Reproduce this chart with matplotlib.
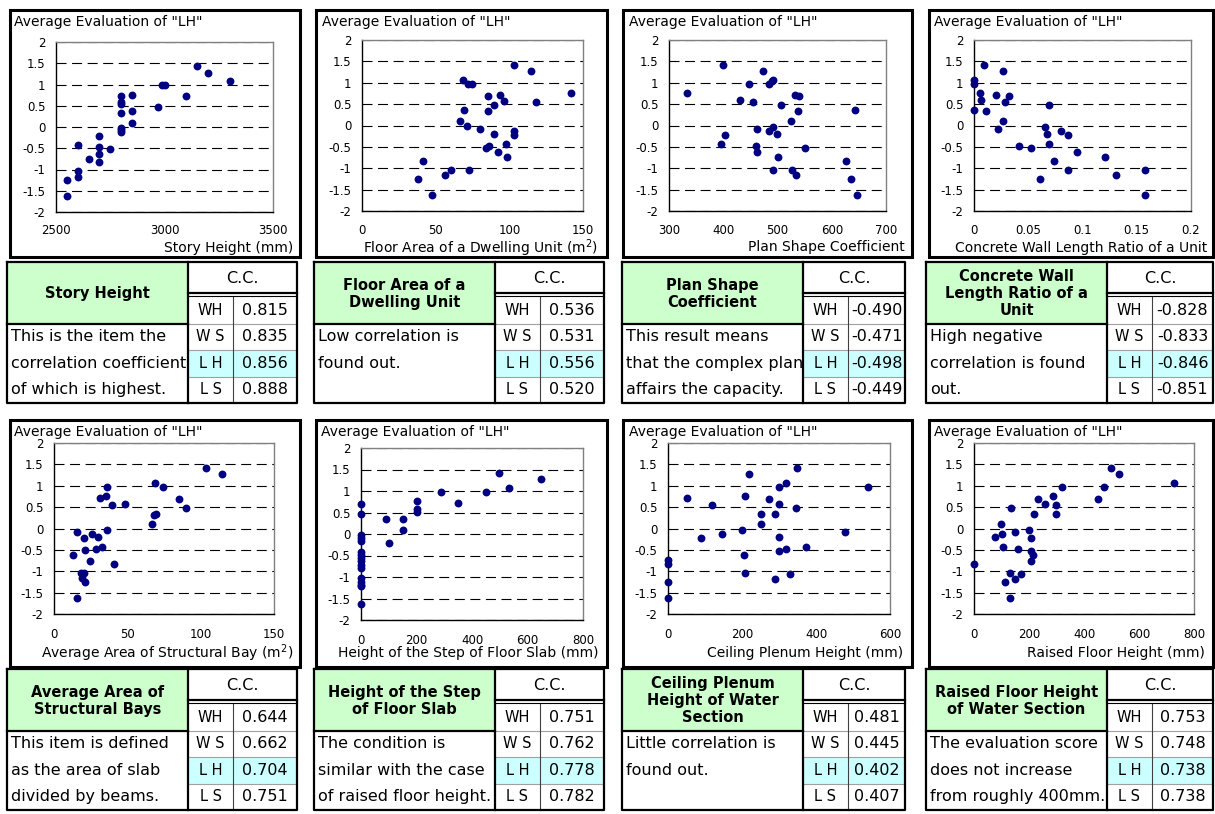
import matplotlib
matplotlib.use('Agg')
import matplotlib.pyplot as plt
from matplotlib.ticker import FuncFormatter, MultipleLocator
from matplotlib.patches import Rectangle

plt.rcParams['font.family'] = ['DejaVu Sans']
plt.rcParams['axes.unicode_minus'] = False

W, H = 1215, 814

# ---------------- data ----------------
y_title = 'Average Evaluation of "LH"'

x_labels = ['Story Height (mm)', 'Floor Area of a Dwelling Unit (m$^2$)',
            'Plan Shape Coefficient', 'Concrete Wall Length Ratio of a Unit',
            'Average Area of Structural Bay (m$^2$)', 'Height of the Step of Floor Slab (mm)',
            'Ceiling Plenum Height (mm)', 'Raised Floor Height (mm)']
x_limits = [(2500, 3500), (0, 150), (300, 700), (0, 0.2),
            (0, 150), (0, 800), (0, 600), (0, 800)]
x_steps = [500, 50, 100, 0.05, 50, 200, 200, 200]

story_x = [2550, 2550, 2600, 2600, 2600, 2650, 2700, 2700, 2700, 2700, 2750, 2800, 2800, 2800,
           2800, 2800, 2800, 2800, 2850, 2850, 2850, 2970, 2990, 3000, 3100, 3150, 3200, 3300]
story_y = [-1.25, -1.63, -0.43, -1.04, -1.17, -0.75, -0.20, -0.47, -0.63, -0.83, -0.52, 0.72, 0.60, 0.54,
           0.34, -0.02, -0.07, -0.12, 0.76, 0.37, 0.10, 0.48, 0.99, 0.98, 0.72, 1.44, 1.28, 1.08]

area_x = [37.9, 41.1, 47.6, 56.4, 60.2, 66.8, 68.8, 69.0, 71.3, 72.2, 74.4, 72.9, 80.1, 84.1, 85.3,
          85.3, 86.0, 89.8, 89.8, 92.0, 93.8, 96.1, 97.7, 98.1, 103.5, 103.5, 103.5, 114.4, 118.0, 141.7]
area_y = [-1.25, -0.83, -1.63, -1.16, -1.05, 0.10, 1.06, 0.36, -0.02, 0.98, 0.98, -1.05, -0.09, -0.52, 0.70,
          0.33, -0.48, 0.48, -0.20, -0.63, 0.72, 0.58, -0.43, -0.74, 1.41, -0.12, -0.23, 1.27, 0.54, 0.76]

shape_x = [333, 399, 396, 404, 431, 447, 454, 462, 460, 462, 474, 485, 489, 491, 485, 491, 491, 499,
           500, 506, 525, 526, 532, 539, 534, 538, 551, 626, 635, 642, 647]
shape_y = [0.76, 1.41, -0.44, -0.22, 0.59, 0.98, 0.54, -0.63, -0.48, -0.09, 1.27, 0.98, 1.04, 1.06, -0.12,
           -0.03, -1.05, -0.20, -0.74, 0.48, 0.10, -1.05, 0.72, 0.70, -1.16, 0.33, -0.52, -0.83, -1.25, 0.36, -1.63]

wall_x = [0, 0, 0, 0.0055, 0.0061, 0.0092, 0.0107, 0.020, 0.0217, 0.0266, 0.0266, 0.0285, 0.0325, 0.0417,
          0.0527, 0.061, 0.0652, 0.0674, 0.0689, 0.0689, 0.0741, 0.0806, 0.087, 0.0867, 0.095, 0.121, 0.131,
          0.158, 0.158]
wall_y = [1.06, 0.97, 0.36, 0.76, 0.59, 1.41, 0.33, 0.72, -0.09, 1.27, 0.10, 0.54, 0.70, -0.48,
          -0.52, -1.25, -0.03, -0.20, 0.48, -0.43, -0.83, -0.12, -0.22, -1.05, -0.63, -0.74, -1.16,
          -1.05, -1.63]

bay_x = [13.2, 15.9, 15.9, 18.2, 20.5, 18.9, 20.9, 20.7, 21.4, 24.5, 25.9, 28.4, 30.0, 31.1, 32.7, 35.9,
         35.5, 35.9, 39.3, 40.7, 48.2, 67.0, 68.0, 69.3, 69.1, 74.5, 85.5, 90.0, 103.9, 114.5]
bay_y = [-0.63, -0.09, -1.63, -1.05, -1.04, -1.16, -1.24, -0.22, -0.51, -0.75, -0.12, -0.49, -0.20, 0.72,
         -0.43, 0.97, 0.75, -0.03, 0.54, -0.83, 0.57, 0.10, 0.32, 0.35, 1.06, 0.97, 0.70, 0.47, 1.41, 1.27]

step_x = [0, 0, 0, 0, 0, 0, 0, 0, 0, 0, 0, 0, 0, 0, 0, 0,
          89, 101, 150, 150, 200, 200, 200, 289, 348, 450, 499, 534, 647]
step_y = [0.70, 0.47, -0.02, -0.10, -0.17, -0.41, -0.49, -0.56, -0.63, -0.72, -0.80, -1.03, -1.11, -1.18,
          -1.22, -1.63, 0.34, -0.21, 0.36, 0.10, 0.77, 0.58, 0.52, 0.97, 0.72, 0.98, 1.42, 1.06, 1.27]

plenum_x = [0, 0, 0, 0, 50, 90, 120, 145, 200, 205, 209, 209, 220, 250, 250, 274, 290, 290, 300, 300,
            300, 300, 320, 320, 330, 347, 349, 373, 479, 540]
plenum_y = [-0.74, -0.83, -1.24, -1.63, 0.72, -0.22, 0.54, -0.12, -0.03, -0.62, 0.75, -1.04, 1.27, 0.35,
            0.10, 0.70, 0.33, -1.17, 0.97, 0.58, -0.20, -0.52, 1.06, -0.48, -1.06, 0.47, 1.42, -0.43, -0.09, 0.97]

raised_x = [0, 75, 98, 103, 105, 112, 130, 131, 135, 149, 149, 160, 170, 199, 208, 207, 208, 215, 219,
            234, 259, 288, 299, 299, 320, 452, 474, 499, 528, 728]
raised_y = [-0.83, -0.20, 0.10, -0.12, -0.43, -1.24, -1.04, -1.63, 0.47, -1.17, -0.09, -0.48, -1.06, -0.03,
            -0.22, -0.52, -0.75, -0.62, 0.33, 0.70, 0.57, 0.75, 0.54, 0.35, 0.97, 0.70, 0.97, 1.41, 1.27, 1.06]

series_x = [story_x, area_x, shape_x, wall_x, bay_x, step_x, plenum_x, raised_x]
series_y = [story_y, area_y, shape_y, wall_y, bay_y, step_y, plenum_y, raised_y]

item_titles = ['Story Height', 'Floor Area of a\nDwelling Unit', 'Plan Shape\nCoefficient',
               'Concrete Wall\nLength Ratio of a\nUnit', 'Average Area of\nStructural Bays',
               'Height of the Step\nof Floor Slab', 'Ceiling Plenum\nHeight of Water\nSection',
               'Raised Floor Height\nof Water Section']
cc_header = 'C.C.'
cc_labels = ['WH', 'W S', 'L H', 'L S']
cc_values = [[0.815, 0.835, 0.856, 0.888],
             [0.536, 0.531, 0.556, 0.520],
             [-0.490, -0.471, -0.498, -0.449],
             [-0.828, -0.833, -0.846, -0.851],
             [0.644, 0.662, 0.704, 0.751],
             [0.751, 0.762, 0.778, 0.782],
             [0.481, 0.445, 0.402, 0.407],
             [0.753, 0.748, 0.738, 0.738]]
descriptions = [['This is the item the', 'correlation coefficient', 'of which is highest.'],
                ['Low correlation is', 'found out.'],
                ['This result means', 'that the complex plan', 'affairs the capacity.'],
                ['High negative', 'correlation is found', 'out.'],
                ['This item is defined', 'as the area of slab', 'divided by beams.'],
                ['The condition is', 'similar with the case', 'of raised floor height.'],
                ['Little correlation is', 'found out.'],
                ['The evaluation score', 'does not increase', 'from roughly 400mm.']]

# ---------------- layout (pixels) ----------------
axes_px = [(56, 42, 273, 212), (362, 40, 583, 211), (669, 40, 886, 211), (974, 40, 1191, 211),
           (54, 443, 274, 614), (361, 448, 583, 620), (668, 443, 890, 614), (974, 443, 1194, 614)]
title_pos = [(14, 22), (322, 22), (629, 22), (934, 22),
             (14, 432), (321, 432), (629, 432), (934, 432)]
xlabel_pos = [(293, 248), (598, 248), (905, 247), (1207, 248),
              (293, 653), (598, 653), (903, 653), (1205, 653)]
box_l = [10, 316, 623, 929]
box_r = [300, 607, 912, 1213]
box_rows = [(10, 257), (420, 667)]
tab_l = [7, 314, 622, 926]
tab_r = [297, 604, 905, 1213]
tab_top = [262, 669]
green_w = 181
label_w = 45

fig = plt.figure(figsize=(W / 100, H / 100), dpi=100)
bg = fig.add_axes([0, 0, 1, 1])
bg.set_xlim(0, W)
bg.set_ylim(H, 0)
bg.axis('off')

navy = '#000080'
fmt = FuncFormatter(lambda v, p: f'{round(v, 4):g}')

for i in range(8):
    l, t, r, b = axes_px[i]
    ax = fig.add_axes([l / W, 1 - b / H, (r - l) / W, (b - t) / H])
    ax.set_facecolor('none')
    ax.scatter(series_x[i], series_y[i], s=32, color=navy, linewidths=0, zorder=3, clip_on=False)
    ax.set_xlim(*x_limits[i])
    ax.set_ylim(-2, 2)
    ax.xaxis.set_major_locator(MultipleLocator(x_steps[i]))
    ax.yaxis.set_major_locator(MultipleLocator(0.5))
    ax.xaxis.set_major_formatter(fmt)
    ax.yaxis.set_major_formatter(fmt)
    ax.tick_params(length=0, labelsize=8.5, colors='black')
    ax.tick_params(axis='y', pad=7.5)
    ax.tick_params(axis='x', pad=9 if i < 4 else 10)
    ax.yaxis.grid(True, color='black', lw=0.8, linestyle=(0, (9, 5)))
    ax.set_axisbelow(True)
    for s in ['left', 'bottom']:
        ax.spines[s].set_color('black')
        ax.spines[s].set_linewidth(1.0)
    for s in ['top', 'right']:
        ax.spines[s].set_color('#808080')
        ax.spines[s].set_linewidth(1.0)
    tx, ty = title_pos[i]
    bg.text(tx, ty, y_title, fontsize=10, ha='left', va='center')
    lx, ly = xlabel_pos[i]
    bg.text(lx, ly, x_labels[i], fontsize=10, ha='right', va='center')

# panel boxes
for (top, bot) in box_rows:
    for c in range(4):
        bg.add_patch(Rectangle((box_l[c], top), box_r[c] - box_l[c], bot - top,
                               fill=False, ec='black', lw=2.2, zorder=5))

# tables
thick = dict(color='black', lw=1.6, solid_capstyle='projecting', zorder=6)
hdr_h = 31
row_h = 26.5
for k in range(8):
    row, c = divmod(k, 4)
    top = tab_top[row]
    x0 = tab_l[c]
    x1 = x0 + green_w
    x2 = x1 + label_w
    x3 = tab_r[c]
    y_hdr = top + hdr_h
    ys = [y_hdr + 4 + j * row_h for j in range(5)]
    bottom = ys[4]
    bg.add_patch(Rectangle((x0, top), green_w, ys[1] - top, fc='#CCFFCC', ec='none', zorder=2))
    bg.add_patch(Rectangle((x1, ys[2]), x3 - x1, row_h, fc='#CCFFFF', ec='none', zorder=2))
    for y in ys[1:4]:
        bg.plot([x1, x3], [y, y], color='#A0A0A0', lw=0.8, zorder=3)
    bg.plot([x2, x2], [ys[0], bottom], color='#404040', lw=0.8, zorder=3)
    bg.plot([x0, x3, x3, x0, x0], [top, top, bottom, bottom, top], **thick)
    bg.plot([x1, x1], [top, bottom], **thick)
    bg.plot([x0, x1], [ys[1], ys[1]], **thick)
    bg.plot([x1, x3], [y_hdr, y_hdr], **thick)
    bg.plot([x1, x3], [y_hdr + 3, y_hdr + 3], color='black', lw=0.8, zorder=6)

    bg.text((x0 + x1) / 2, (top + ys[1]) / 2 + 1, item_titles[k], ha='center', va='center',
            fontsize=10.5, fontweight='bold', linespacing=1.15, zorder=7)
    bg.text((x1 + x3) / 2, (top + y_hdr) / 2 + 1, cc_header, ha='center', va='center',
            fontsize=11.5, zorder=7)
    for j in range(4):
        ym = (ys[j] + ys[j + 1]) / 2
        bg.text((x1 + x2) / 2, ym, cc_labels[j], ha='center', va='center', fontsize=10.5, zorder=7)
        bg.text((x2 + x3) / 2, ym, f'{cc_values[k][j]:.3f}', ha='center', va='center',
                fontsize=11.5, zorder=7)
    for j, line in enumerate(descriptions[k]):
        ym = (ys[j + 1] + ys[j + 2]) / 2
        bg.text(x0 + 4, ym, line, ha='left', va='center', fontsize=11.5, zorder=7)

fig.savefig('out.png', dpi=100)
